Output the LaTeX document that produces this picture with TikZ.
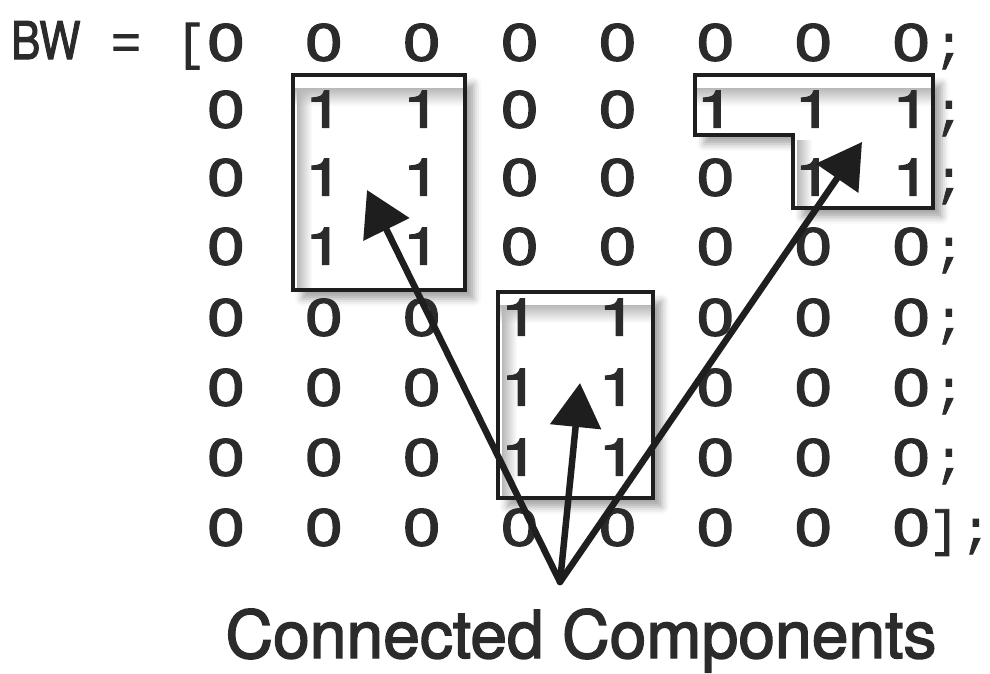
\documentclass[tikz,border=0pt]{standalone}
\usepackage{fontspec}
\usepackage{graphicx}
\setmainfont{TeX Gyre Heros}
\newfontfamily\numfont[FakeBold=2.2]{TeX Gyre Heros}
\newfontfamily\labelfont[FakeBold=2.2]{TeX Gyre Heros}
\newfontfamily\monofont[FakeBold=1.5]{Liberation Mono}
\usetikzlibrary{arrows.meta,shadows.blur,fadings}

\definecolor{ink}{HTML}{2B2B2B}
\definecolor{frame}{HTML}{1E1E1E}

% matrix digits are set wide
\newcommand{\widedigit}[1]{\scalebox{1.3}[1]{#1}}

\begin{document}
\begin{tikzpicture}[x=1pt,y=-1pt,
  num/.style={font=\numfont\fontsize{52}{52}\selectfont, text=ink, inner sep=0pt, anchor=base},
  punct/.style={font=\monofont\fontsize{50}{50}\selectfont, text=ink, inner sep=0pt, anchor=base},
  regionbox/.style={fill=white, blur shadow={shadow xshift=9pt, shadow yshift=-9pt,
      shadow blur radius=7pt, shadow opacity=35}},
  regionframe/.style={draw=frame, line width=4.5pt, line join=miter},
  pointer/.style={draw=frame, line width=6.5pt, line cap=round,
      -{Triangle[length=44pt,width=50pt]}},
  innershade/.style={fill=black!28},
  caption/.style={font=\labelfont\fontsize{66}{66}\selectfont, text=ink, inner sep=0pt, anchor=base}]

\useasboundingbox (0,0) rectangle (990,673);

% the three connected regions: white fill with soft drop shadow
\path[regionbox] (293,75) rectangle (465,290);
\path[regionbox] (498,292) rectangle (653,498);
\path[regionbox] (695,75) -- (933,75) -- (933,208) -- (793,208) -- (793,135) -- (695,135) -- cycle;

% faint inner shading along the top and left inside edges
\begin{scope}
  \clip (293,75) rectangle (465,290);
  \fill[innershade, path fading=south] (295,88) rectangle (463,106);
  \fill[innershade, path fading=east] (297,88) rectangle (312,288);
\end{scope}
\begin{scope}
  \clip (498,292) rectangle (653,498);
  \fill[innershade, path fading=south] (500,305) rectangle (651,323);
  \fill[innershade, path fading=east] (502,305) rectangle (517,496);
\end{scope}
\begin{scope}
  \clip (695,75) -- (933,75) -- (933,208) -- (793,208) -- (793,135) -- (695,135) -- cycle;
  \fill[innershade, path fading=south] (697,88) rectangle (931,106);
  \fill[innershade, path fading=east] (797,140) rectangle (812,206);
  \fill[innershade, path fading=south] (697,137) rectangle (795,150);
\end{scope}

% BW = [ ... ];
\node[num, anchor=base west] (bw) at (11,59) {\scalebox{0.84}[1]{BW}};
\node[punct] (eq) at (126,59) {=};
\node[punct] (lbr) at (191,59) {[};

\def\rowys{{42,109,177,246,317,387,457,527}}
\foreach \rowvals [count=\r] in {
    {0,0,0,0,0,0,0,0},
    {0,1,1,0,0,1,1,1},
    {0,1,1,0,0,0,1,1},
    {0,1,1,0,0,0,0,0},
    {0,0,0,1,1,0,0,0},
    {0,0,0,1,1,0,0,0},
    {0,0,0,1,1,0,0,0},
    {0,0,0,0,0,0,0,0}} {
  \pgfmathsetmacro\yy{\rowys[\r-1]+18.5}
  \foreach \v [count=\c] in \rowvals {
    \pgfmathsetmacro\xx{226+(\c-1)*97.9}
    \node[num] (m-\r-\c) at (\xx,\yy) {\widedigit{\v}};
  }
}

% row terminators
\foreach \r in {1,...,7} {
  \pgfmathsetmacro\yy{\rowys[\r-1]+18.5}
  \node[punct] (semi-\r) at (949,\yy) {\makebox[12pt]{;}};
}
\node[punct] (rbr) at (944,545.5) {\makebox[12pt]{]}};
\node[punct] (semi-8) at (976,545.5) {\makebox[12pt]{;}};

% region outlines
\draw[regionframe] (293,75) rectangle (465,290);
\draw[regionframe] (498,292) rectangle (653,498);
\draw[regionframe] (695,75) -- (933,75) -- (933,208) -- (793,208) -- (793,135) -- (695,135) -- cycle;

% pointers from the label to each region
\coordinate (src) at (560,582);
\coordinate (tipA) at (367,190);
\coordinate (tipB) at (580,383);
\coordinate (tipC) at (862,142);
\draw[pointer] (src) -- (tipA);
\draw[pointer] (src) -- (tipB);
\draw[pointer] (src) -- (tipC);

\node[caption] (label) at (581,658) {Connected Components};
\end{tikzpicture}
\end{document}
